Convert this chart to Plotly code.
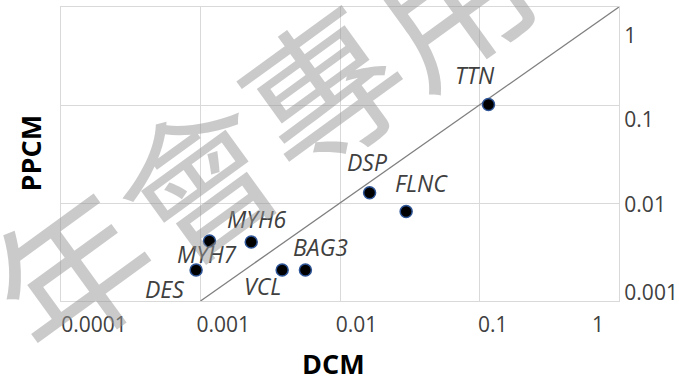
import math
import plotly.graph_objects as go

# ---- data ----
genes = ["TTN", "DSP", "FLNC", "MYH6", "MYH7", "DES", "VCL", "BAG3"]
dcm = [0.116, 0.0163, 0.0298, 0.00231, 0.00116, 0.00093, 0.00385, 0.00565]
ppcm = [0.101, 0.0127, 0.0082, 0.0040, 0.0041, 0.00207, 0.00207, 0.00207]

identity_line = [0.001, 1]

x_tick_text = ["0.0001", "0.001", "0.01", "0.1", "1"]
y_tick_text = ["0.001", "0.01", "0.1", "1"]
x_grid_vals = [0.001, 0.01, 0.1]
y_grid_vals = [0.01, 0.1]

# ---- styling / placement (not data) ----
x_label_pos = [10 ** v for v in (-3.763, -2.837, -1.882, -0.905, -0.151)]
y_label_pos = [10 ** v for v in (-2.918, -2.017, -1.147, -0.288)]
label_shift = {
    "TTN": (-13, 30), "DSP": (-2, 31), "FLNC": (15, 28), "MYH6": (6, 23),
    "MYH7": (-2, -13), "DES": (-32, -19), "VCL": (-20, -16), "BAG3": (15, 23),
}
GRID = "#d9d9d9"
TXT = "#404040"
FONT = "Open Sans"

fig = go.Figure()
fig.add_trace(go.Scatter(
    x=identity_line, y=identity_line, mode="lines",
    line=dict(color="#7f7f7f", width=1.3), hoverinfo="skip", showlegend=False,
))
fig.add_trace(go.Scatter(
    x=dcm, y=ppcm, mode="markers", text=genes,
    marker=dict(size=12, color="black", line=dict(color="#2e5597", width=1.5)),
    showlegend=False,
))

# gene labels (annotations on log axes take log10 positions)
for g, xv, yv in zip(genes, dcm, ppcm):
    dx, dy = label_shift[g]
    fig.add_annotation(
        x=math.log10(xv), y=math.log10(yv), xref="x", yref="y", text=g,
        showarrow=False, xshift=dx, yshift=dy,
        xanchor="center", yanchor="middle",
        font=dict(family=FONT, size=23, color=TXT, style="italic"),
    )

# axis titles
fig.add_annotation(
    x=-0.054, y=0.505, xref="paper", yref="paper", text="<b>PPCM</b>",
    textangle=-90, showarrow=False, xanchor="center", yanchor="middle",
    font=dict(family=FONT, size=27, color="black"),
)
fig.add_annotation(
    x=0.489, y=-0.214, xref="paper", yref="paper", text="<b>DCM</b>",
    showarrow=False, xanchor="center", yanchor="middle",
    font=dict(family=FONT, size=27, color="black"),
)

# watermark
fig.add_annotation(
    x=0.351, y=0.582, xref="paper", yref="paper", text="年會專用",
    textangle=-36, showarrow=False, xanchor="center", yanchor="middle",
    font=dict(family="Noto Sans CJK TC", size=155, color="rgba(150,150,150,0.5)"),
)

fig.update_xaxes(
    type="log", range=[-4, 0], automargin=False,
    tickmode="array", tickvals=x_label_pos, ticktext=x_tick_text,
    showgrid=False, ticks="", ticklabelstandoff=5,
    tickfont=dict(family=FONT, size=21, color=TXT),
    minor=dict(tickmode="array", tickvals=x_grid_vals, showgrid=True,
               gridcolor=GRID, gridwidth=1.3, ticks=""),
    showline=True, linecolor=GRID, linewidth=1.3, mirror=True, zeroline=False,
)
fig.update_yaxes(
    type="log", range=[-3, 0], side="right", automargin=False,
    tickmode="array", tickvals=y_label_pos, ticktext=y_tick_text,
    showgrid=False, ticks="", ticklabelstandoff=0,
    tickfont=dict(family=FONT, size=21, color=TXT),
    minor=dict(tickmode="array", tickvals=y_grid_vals, showgrid=True,
               gridcolor=GRID, gridwidth=1.3, ticks=""),
    showline=True, linecolor=GRID, linewidth=1.3, mirror=True, zeroline=False,
)

fig.update_layout(
    width=679, height=379,
    margin=dict(l=61, r=60, t=7, b=78),
    paper_bgcolor="white", plot_bgcolor="white",
    font=dict(family=FONT),
)

fig.write_html("out.html",
               config={"displayModeBar": False},
               post_script="document.body.style.margin='0';")
